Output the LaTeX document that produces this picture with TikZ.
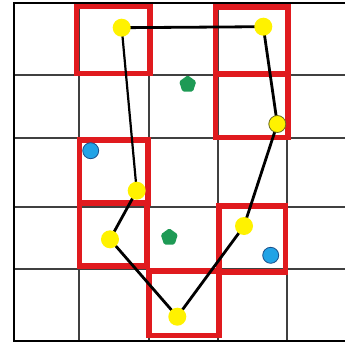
\documentclass[tikz,border=0pt]{standalone}
\usetikzlibrary{shapes.geometric}
\definecolor{boxred}{HTML}{E01A1E}
\definecolor{dotyellow}{HTML}{FFF200}
\definecolor{dotblue}{HTML}{22A3E6}
\definecolor{blueedge}{HTML}{1B4F8A}
\definecolor{pentgreen}{HTML}{1E9A55}
\definecolor{yedge}{HTML}{6B6A20}
\begin{document}
\begin{tikzpicture}[x=1pt,y=-1pt,
  gridline/.style={draw=black!75,line width=1.1pt},
  borderline/.style={draw=black,line width=2pt},
  redbox/.style={draw=boxred,line width=5.8pt,line join=miter},
  edgeline/.style={draw=black,line width=2.8pt},
  ydot/.style={circle,fill=dotyellow,inner sep=0pt,minimum size=18pt},
  bdot/.style={circle,fill=dotblue,draw=blueedge,line width=0.8pt,inner sep=0pt,minimum size=16pt},
  gpent/.style={regular polygon,regular polygon sides=5,fill=pentgreen,rounded corners=1.5pt,inner sep=0pt,minimum size=18pt}]
\useasboundingbox (0,0) rectangle (345,345);
\fill[white] (0,0) rectangle (345,345);
% grid
\foreach \x in {79,149,218,287} \draw[gridline] (\x,3) -- (\x,341);
\foreach \y in {75,138,207,269} \draw[gridline] (14,\y) -- (345,\y);
\draw[borderline] (345,3) -- (14,3) -- (14,341) -- (345,341);
% red squares
\draw[redbox] (76.5,6.5) rectangle (150,73.5);
\draw[redbox] (215.5,6.7) rectangle (288,73.7);
\draw[redbox] (215.5,73.7) rectangle (288,137.5);
\draw[redbox] (79.5,140) rectangle (148,203);
\draw[redbox] (79.5,203) rectangle (147,266);
\draw[redbox] (219,206) rectangle (285.5,271.7);
\draw[redbox] (149,271) rectangle (219,335.5);
% polygon vertices
\coordinate (p1) at (121.7,27.7);
\coordinate (p2) at (263.3,26.7);
\coordinate (p3) at (277.3,124);
\coordinate (p4) at (136.7,190.7);
\coordinate (p5) at (110,239.3);
\coordinate (p6) at (244,226);
\coordinate (p7) at (177.3,316.7);
\draw[edgeline] (p1) -- (p2);
\draw[edgeline] (p2) -- (p3);
\draw[edgeline] (p3) -- (p6);
\draw[edgeline] (p6) -- (p7);
\draw[edgeline] (p7) -- (p5);
\draw[edgeline] (p5) -- (p4);
\draw[edgeline,line width=2.2pt] (p4) -- (p1);
% dots
\node[ydot] (y1) at (p1) {};
\node[ydot] (y2) at (p2) {};
\node[ydot,draw=yedge,line width=0.8pt,minimum size=17pt] (y3) at (p3) {};
\node[ydot] (y4) at (p4) {};
\node[ydot] (y5) at (p5) {};
\node[ydot] (y6) at (p6) {};
\node[ydot] (y7) at (p7) {};
\node[bdot] (b1) at (90.7,150.7) {};
\node[bdot] (b2) at (270.7,255.3) {};
\node[gpent] (g1) at (187.7,84.3) {};
\node[gpent] (g2) at (169.3,237.3) {};
\end{tikzpicture}
\end{document}
